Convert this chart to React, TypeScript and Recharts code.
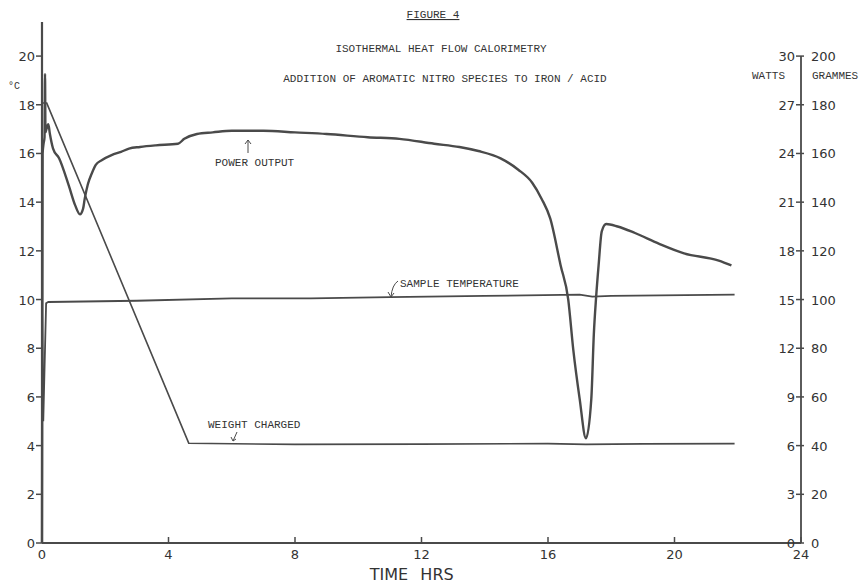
import React from "react";
import { LineChart, Line, XAxis, YAxis, ReferenceLine } from "recharts";

// ---- data ----
const xTicks = [0, 4, 8, 12, 16, 20, 24];
const tempTicks = [0, 2, 4, 6, 8, 10, 12, 14, 16, 18, 20];
const wattTicks = [0, 3, 6, 9, 12, 15, 18, 21, 24, 27, 30];

// Power output (W)
const powerTime = [0, 0.02, 0.05, 0.08, 0.095, 0.11, 0.14, 0.2, 0.25, 0.35, 0.54, 0.85, 1.05, 1.2, 1.3, 1.35, 1.45, 1.58, 1.7, 1.9, 2.2, 2.5, 2.75, 3.1, 3.6, 4.3, 4.5, 4.9, 5.4, 6.0, 7.0, 8.0, 9.0, 10.3, 11.3, 12.4, 13.2, 13.8, 14.5, 15.06, 15.5, 15.8, 16.07, 16.4, 16.64, 16.8, 17.0, 17.2, 17.37, 17.45, 17.52, 17.6, 17.7, 17.84, 18.2, 18.75, 19.5, 20.3, 21.4, 21.8];
const powerWatts = [0, 24.0, 24.6, 25.0, 28.9, 25.3, 25.5, 25.8, 25.2, 24.3, 23.7, 22.0, 20.8, 20.25, 20.6, 21.2, 22.1, 22.8, 23.3, 23.6, 23.9, 24.1, 24.3, 24.4, 24.5, 24.6, 24.9, 25.2, 25.3, 25.4, 25.4, 25.3, 25.2, 25.0, 24.9, 24.6, 24.4, 24.15, 23.7, 23.0, 22.2, 21.2, 20.0, 17.1, 15.0, 11.9, 8.9, 6.45, 8.9, 12.9, 15.1, 17.1, 19.2, 19.65, 19.5, 19.1, 18.45, 17.85, 17.4, 17.1];

// Sample temperature (°C)
const tempTime = [0, 0.04, 0.13, 0.2, 3, 6, 8.5, 11, 14, 17.0, 17.4, 18, 21.9];
const tempC = [9.8, 5.0, 9.85, 9.9, 9.95, 10.05, 10.05, 10.1, 10.15, 10.2, 10.12, 10.15, 10.2];

// Weight charged (g)
const weightTime = [0, 0.15, 4.64, 8, 12, 16, 17.2, 19, 21.9];
const weightG = [180.7, 180.7, 41, 40.5, 40.6, 40.8, 40.5, 40.7, 40.8];

const powerData = powerTime.map((t, i) => ({ t, w: powerWatts[i] }));
const tempData = tempTime.map((t, i) => ({ t, c: tempC[i] }));
const weightData = weightTime.map((t, i) => ({ t, g: weightG[i] }));

const INK = "#4a4a4a";
const TXT = "#333333";
const MONO = "'Liberation Mono', 'DejaVu Sans Mono', monospace";
const PLOT = "'DejaVu Sans', sans-serif";

const W = 861;
const MARGIN_R = 8;
const RIGHT_AXIS_W = 52;
const RIGHT_X = W - MARGIN_R - RIGHT_AXIS_W;

const LeftTick = (props: any) => {
  const { x, y, payload } = props;
  return (
    <g>
      <line x1={x - 6} y1={y} x2={x} y2={y} stroke={INK} strokeWidth={1.5} />
      <text x={x - 7} y={y + 5} textAnchor="end" fontFamily={PLOT} fontSize={13} fill={TXT}>
        {payload.value}
      </text>
    </g>
  );
};

const RightTick = (props: any) => {
  const { y, payload } = props;
  const x = RIGHT_X;
  const g = Math.round((payload.value * 20) / 3);
  return (
    <g>
      <line x1={x - 5} y1={y} x2={x + 3} y2={y} stroke={INK} strokeWidth={1.5} />
      <text x={x - 6} y={y + 5} textAnchor="end" fontFamily={PLOT} fontSize={13} fill={TXT}>
        {payload.value}
      </text>
      <text x={x + 10} y={y + 5} textAnchor="start" fontFamily={PLOT} fontSize={13} fill={TXT}>
        {g}
      </text>
    </g>
  );
};

const BottomTick = (props: any) => {
  const { x, y, payload } = props;
  return (
    <g>
      <line x1={x} y1={y} x2={x} y2={y - 6} stroke={INK} strokeWidth={1.5} />
      <text x={x} y={y + 16} textAnchor="middle" fontFamily={PLOT} fontSize={13} fill={TXT}>
        {payload.value}
      </text>
    </g>
  );
};

export default function App() {
  return (
    <div style={{ position: "absolute", left: 0, top: 0, background: "#fff" }}>
      <LineChart
        width={W}
        height={584}
        margin={{ top: 22, right: MARGIN_R, bottom: 11, left: 4 }}
      >
        <XAxis
          xAxisId="x"
          type="number"
          dataKey="t"
          domain={[0, 24]}
          ticks={xTicks}
          height={30}
          tickLine={false}
          tickSize={0}
          tickMargin={0}
          axisLine={{ stroke: INK, strokeWidth: 1.8 }}
          tick={<BottomTick />}
          allowDuplicatedCategory={false}
        />
        <YAxis
          yAxisId="c"
          orientation="left"
          type="number"
          domain={[0, 21.4]}
          ticks={tempTicks}
          width={38}
          tickLine={false}
          tickSize={0}
          tickMargin={0}
          axisLine={{ stroke: INK, strokeWidth: 2.2 }}
          tick={<LeftTick />}
        />
        <YAxis
          yAxisId="w"
          orientation="right"
          type="number"
          domain={[0, 32.1]}
          ticks={wattTicks}
          width={RIGHT_AXIS_W}
          tickLine={false}
          tickSize={0}
          tickMargin={0}
          axisLine={false}
          tick={<RightTick />}
        />
        <YAxis yAxisId="g" orientation="right" type="number" domain={[0, 214]} hide />
        <ReferenceLine
          xAxisId="x"
          yAxisId="w"
          segment={[{ x: 24, y: 0 }, { x: 24, y: 30 }]}
          stroke={INK}
          strokeWidth={1.8}
          ifOverflow="visible"
        />
        <Line
          xAxisId="x"
          yAxisId="g"
          data={weightData}
          dataKey="g"
          type="linear"
          stroke={INK}
          strokeWidth={1.6}
          dot={false}
          isAnimationActive={false}
        />
        <Line
          xAxisId="x"
          yAxisId="c"
          data={tempData}
          dataKey="c"
          type="linear"
          stroke={INK}
          strokeWidth={1.8}
          dot={false}
          isAnimationActive={false}
        />
        <Line
          xAxisId="x"
          yAxisId="w"
          data={powerData}
          dataKey="w"
          type="monotone"
          stroke={INK}
          strokeWidth={2.4}
          dot={false}
          isAnimationActive={false}
        />
        <g fontFamily={MONO} fontSize={11} fill={TXT}>
          <text x={433} y={18} textAnchor="middle" style={{ textDecoration: "underline" }}>FIGURE 4</text>
          <text x={441} y={52} textAnchor="middle">ISOTHERMAL HEAT FLOW CALORIMETRY</text>
          <text x={445} y={82} textAnchor="middle">ADDITION OF AROMATIC NITRO SPECIES TO IRON / ACID</text>
          <text x={215} y={166}>POWER OUTPUT</text>
          <text x={400} y={287}>SAMPLE TEMPERATURE</text>
          <text x={208} y={428}>WEIGHT CHARGED</text>
          <text x={752} y={79}>WATTS</text>
          <text x={812} y={79}>GRAMMES</text>
          <text x={8} y={89} fontSize={10}>°C</text>
        </g>
        <path d="M248 153 L248 140 M245 144 L248 140 L251 144" stroke={INK} strokeWidth={1} fill="none" />
        <path d="M398 281 Q392 285 391 297 M388 292 L391 297 L394 293" stroke={INK} strokeWidth={1} fill="none" />
        <path d="M237 432 L233 441 M231 437 L233 441 L236 439" stroke={INK} strokeWidth={1} fill="none" />
        <text x={389} y={580} textAnchor="middle" fontFamily={PLOT} fontSize={16} fill={TXT}>TIME</text>
        <text x={437} y={580} textAnchor="middle" fontFamily={PLOT} fontSize={16} fill={TXT}>HRS</text>
      </LineChart>
    </div>
  );
}
